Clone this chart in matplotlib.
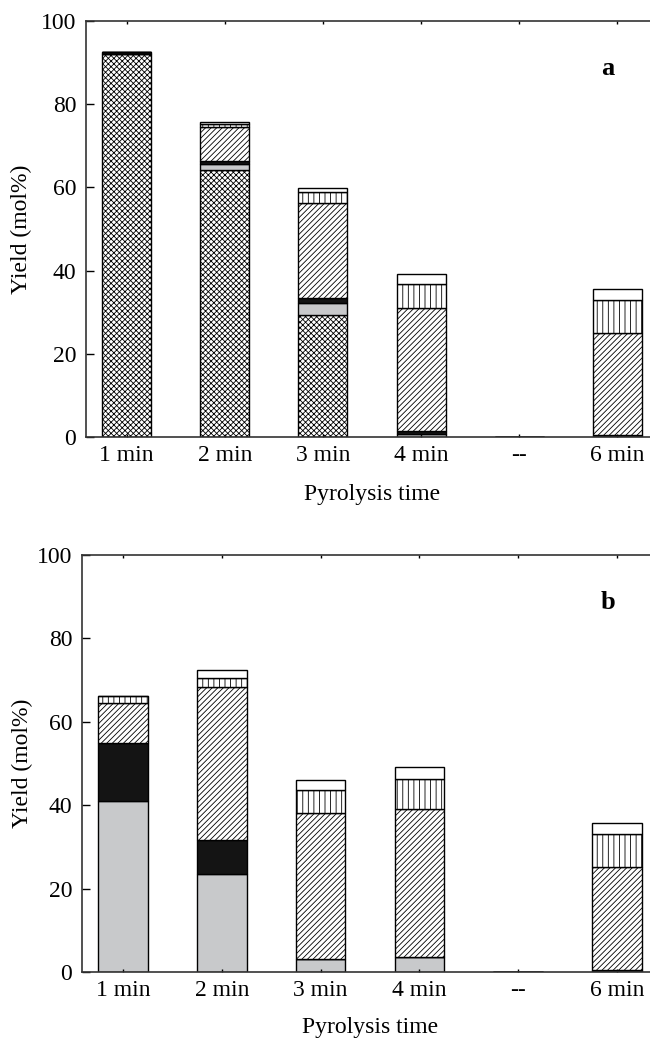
import numpy as np
import matplotlib
matplotlib.use('Agg')
import matplotlib.pyplot as plt

plt.rcParams['font.family'] = ['Liberation Serif', 'DejaVu Serif']
plt.rcParams['hatch.linewidth'] = 0.6

# Categories
labels = ['1 min', '2 min', '3 min', '4 min', '--', '6 min']

# Panel a (bottom -> top stack)
a_cross = [92.0, 64.2, 29.4, 0.0, 0.0, 0.0]
a_grey = [0.0, 1.5, 2.8, 0.8, 0.0, 0.2]
a_black = [0.6, 0.7, 1.3, 0.6, 0.0, 0.3]
a_diag = [0.0, 8.0, 22.7, 29.6, 0.0, 24.4]
a_vert = [0.0, 0.8, 2.6, 5.75, 0.0, 8.1]
a_white = [0.0, 0.5, 1.1, 2.35, 0.0, 2.6]

# Panel b
b_cross = [0.0, 0.0, 0.0, 0.0, 0.0, 0.0]
b_grey = [41.0, 23.5, 3.0, 3.5, 0.0, 0.2]
b_black = [13.8, 8.15, 0.0, 0.0, 0.0, 0.3]
b_diag = [9.6, 36.65, 35.05, 35.6, 0.0, 24.6]
b_vert = [1.8, 2.2, 5.55, 7.3, 0.0, 8.0]
b_white = [0.0, 1.85, 2.4, 2.8, 0.0, 2.7]

styles = [
    dict(color='white', hatch='xxxxxx'),
    dict(color='#c8c9cb', hatch=None),
    dict(color='#141414', hatch=None),
    dict(color='white', hatch='//////'),
    dict(color='white', hatch='|||'),
    dict(color='white', hatch=None),
]


def draw_panel(ax, series, tag, xlab_y, ylab_x):
    x = np.arange(len(labels))
    bottom = np.zeros(len(labels))
    for vals, st in zip(series, styles):
        vals = np.array(vals)
        ax.bar(x, vals, width=0.5, bottom=bottom, color=st['color'],
               hatch=st['hatch'], edgecolor='black', linewidth=1.0)
        bottom += vals
    ax.set_xlim(-0.415, 5.415)
    ax.set_ylim(0, 100)
    ax.set_yticks([0, 20, 40, 60, 80, 100])
    ax.set_xticks(x)
    ax.set_xticklabels(labels)
    ax.tick_params(axis='y', direction='in', length=6, width=1, labelsize=17, pad=7)
    ax.tick_params(axis='x', direction='in', length=2, width=1, labelsize=17, pad=6, top=True)
    ax.spines['right'].set_visible(False)
    for s in ['left', 'top', 'bottom']:
        ax.spines[s].set_color('#333333')
        ax.spines[s].set_linewidth(1.2)
    ax.set_ylabel('Yield (mol%)', fontsize=17)
    ax.yaxis.set_label_coords(ylab_x, 0.5)
    ax.yaxis.label.set_va('center')
    ax.set_xlabel('Pyrolysis time', fontsize=17)
    ax.xaxis.set_label_coords(0.5, xlab_y)
    ax.xaxis.label.set_va('center')
    ax.text(0.913, 0.887, tag, transform=ax.transAxes, fontsize=19,
            fontweight='bold', ha='center', va='center')


fig = plt.figure(figsize=(6.5, 10.48), dpi=100)
ax1 = fig.add_axes([86 / 650, 611 / 1048, 572 / 650, 416 / 1048])
ax2 = fig.add_axes([82 / 650, 76 / 1048, 576 / 650, 417 / 1048])

draw_panel(ax1, [a_cross, a_grey, a_black, a_diag, a_vert, a_white], 'a', -0.139, -0.112)
draw_panel(ax2, [b_cross, b_grey, b_black, b_diag, b_vert, b_white], 'b', -0.134, -0.104)

fig.savefig('out.png', dpi=100)
